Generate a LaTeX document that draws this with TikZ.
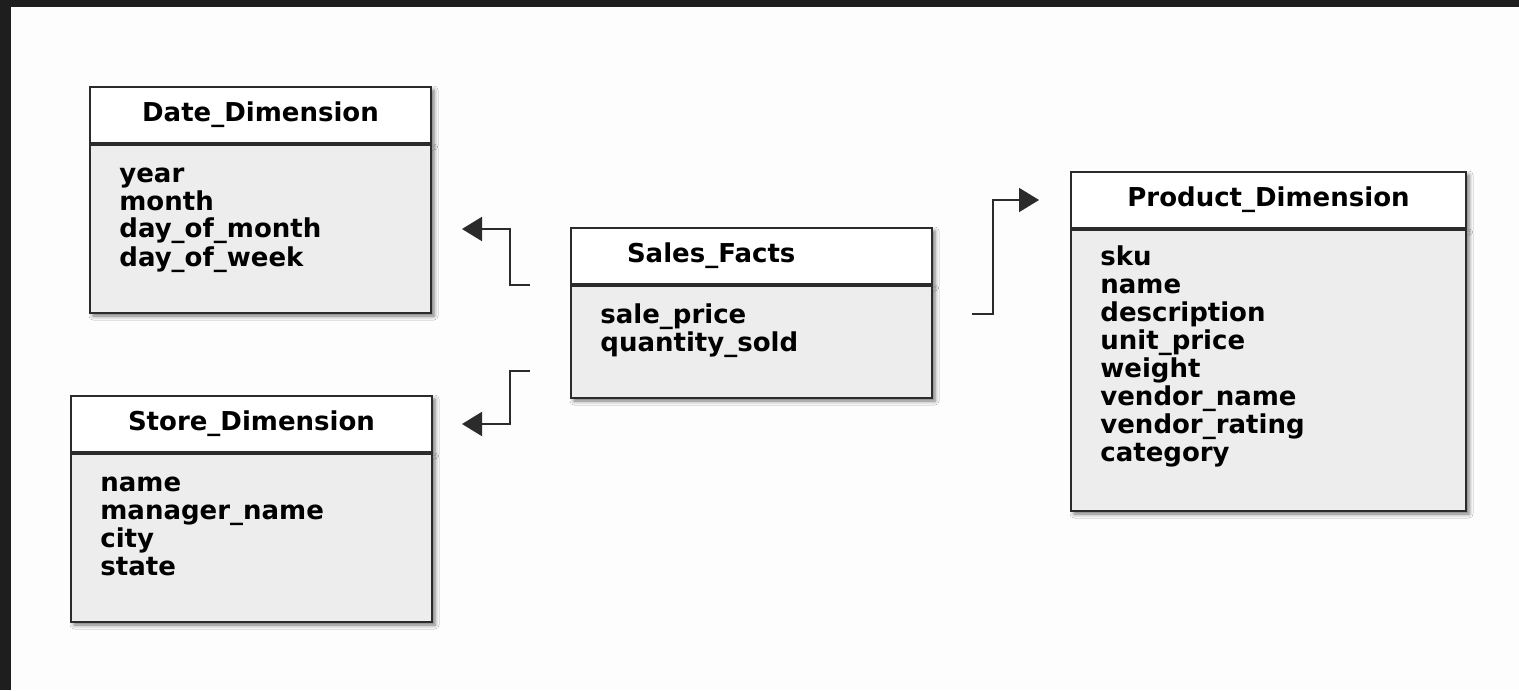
\documentclass[tikz,border=0pt]{standalone}
\usepackage{fontspec}
\setmainfont{DejaVu Sans}
\usetikzlibrary{positioning,arrows.meta,shadows.blur}
\definecolor{framegray}{HTML}{1E1E1E}
\definecolor{paper}{HTML}{FDFDFD}
\definecolor{rowgray}{HTML}{EDEDED}
\definecolor{edgegray}{HTML}{2B2B2B}
\tikzstyle{tablebox} = [draw=edgegray, line width=1pt, blur shadow={shadow xshift=1.5pt, shadow yshift=-1.5pt, shadow blur radius=2pt, shadow opacity=55}]
\tikzstyle{head} = [tablebox, fill=white, minimum height=28pt, inner sep=0pt, font=\bfseries\fontsize{13}{14}\selectfont]
\tikzstyle{body} = [tablebox, fill=rowgray, inner sep=0pt]
\tikzstyle{fields} = [anchor=base west, inner sep=0pt, text width=150pt, align=left, font=\bfseries\fontsize{13}{14}\selectfont, xshift=15pt, yshift=-19pt]
\tikzstyle{link} = [draw=edgegray, line width=1pt, -{Triangle[length=10pt,width=12pt]}]

\begin{document}
\begin{tikzpicture}

\useasboundingbox (0,0) rectangle (759.5pt,-345pt);
\fill[paper] (0,0) rectangle (759.5pt,-345pt);
\fill[framegray] (0,0) rectangle (759.5pt,-3.5pt);
\fill[framegray] (0,0) rectangle (5.5pt,-345pt);

% dimension tables
\node[head, anchor=north west, minimum width=170.5pt] (dateHead) at (44.5pt,-43pt) {Date\_Dimension};
\node[body, below=0pt of dateHead, minimum width=170.5pt, minimum height=84pt,
label={[fields]north west:{year\\month\\day\_of\_month\\day\_of\_week}}] (dateBody) {};

\node[head, anchor=north west, minimum width=180.5pt] (storeHead) at (35pt,-197.5pt) {Store\_Dimension};
\node[body, below=0pt of storeHead, minimum width=180.5pt, minimum height=84pt,
label={[fields]north west:{name\\manager\_name\\city\\state}}] (storeBody) {};

% fact table
\node[head, anchor=north west, text width=124.5pt, inner xsep=28pt, align=left] (salesHead) at (285pt,-113.5pt) {Sales\_Facts};
\node[body, below=0pt of salesHead, minimum width=180.5pt, minimum height=56pt,
label={[fields]north west:{sale\_price\\quantity\_sold}}] (salesBody) {};

\node[head, anchor=north west, minimum width=197.5pt] (productHead) at (535pt,-85.5pt) {Product\_Dimension};
\node[body, below=0pt of productHead, minimum width=197.5pt, minimum height=140.5pt,
label={[fields, yshift=1pt]north west:{sku\\name\\description\\unit\_price\\weight\\vendor\_name\\vendor\_rating\\category}}] (productBody) {};

\draw[link] ([xshift=-20pt]salesHead.south west) -- ++(-10pt,0) |- ([xshift=15pt]dateBody.east);
\draw[link] ([xshift=-20pt,yshift=14pt]salesBody.south west) -- ++(-10pt,0) |- ([xshift=14.5pt]storeHead.east);
\draw[link] ([xshift=19.5pt,yshift=-14.5pt]salesBody.north east) -- ++(10.5pt,0) |- ([xshift=-15.5pt]productHead.west);

\end{tikzpicture}
\end{document}
